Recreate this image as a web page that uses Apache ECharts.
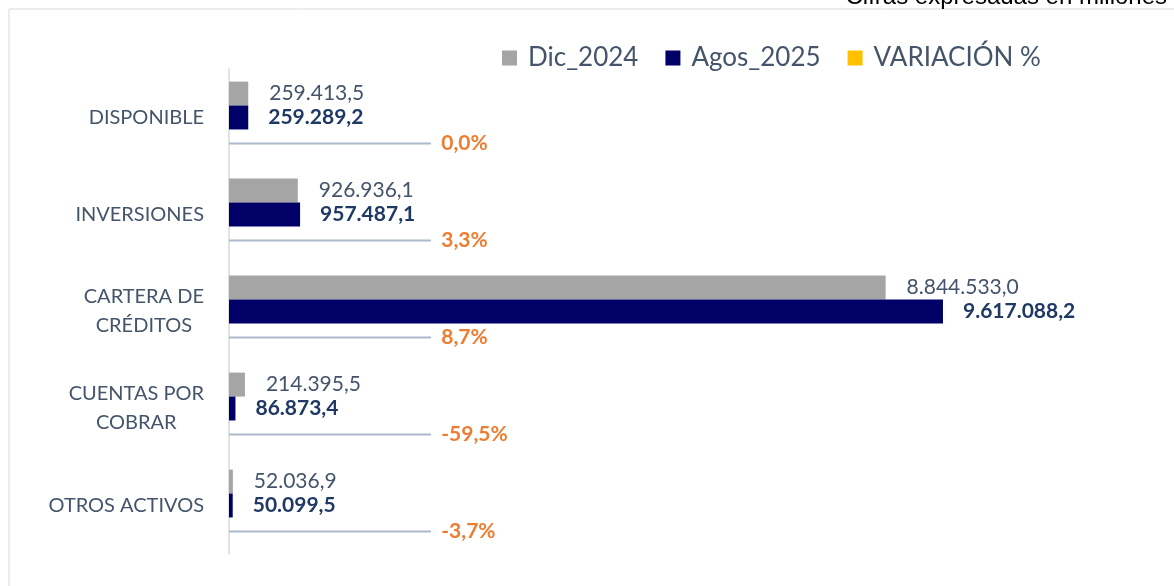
<!DOCTYPE html>
<html>
<head>
<meta charset="utf-8">
<script src="https://cdn.jsdelivr.net/npm/echarts@6/dist/echarts.min.js"></script>
<style>
  html, body { margin: 0; padding: 0; background: #fff; }
  #chart { width: 1174px; height: 586px; }
</style>
</head>
<body>
<div id="chart"></div>
<script>
var categorias = ['DISPONIBLE', 'INVERSIONES', 'CARTERA DE\nCRÉDITOS', 'CUENTAS POR\nCOBRAR', 'OTROS ACTIVOS'];
var dic2024 = [259413.5, 926936.1, 8844533.0, 214395.5, 52036.9];
var agos2025 = [259289.2, 957487.1, 9617088.2, 86873.4, 50099.5];
var variacion = [0.0, 3.3, 8.7, -59.5, -3.7];

var txtColor = '#44546A';
var fontName = 'Lato';

// formato 1.234.567,8
function fmt(v) {
  var parts = v.toFixed(1).split('.');
  parts[0] = parts[0].replace(/\B(?=(\d{3})+(?!\d))/g, '.');
  return parts.join(',');
}

window.onload = function() {
  var chart = echarts.init(document.getElementById('chart'));
  var option = {
    animation: false,
    textStyle: {fontFamily: fontName},
    graphic: [
      {
        type: 'rect',
        shape: {x: 9, y: 9, width: 1200, height: 620},
        style: {fill: 'none', stroke: '#D9D9D9', lineWidth: 1},
        silent: true
      },
      {
        type: 'text',
        right: 7,
        top: -15,
        style: {text: 'Cifras expresadas en millones', font: '24px "Liberation Sans"', fill: '#000'}
      }
    ],
    legend: {
      left: 497,
      top: 40,
      itemGap: 27,
      itemWidth: 15,
      itemHeight: 15,
      icon: 'rect',
      textStyle: {color: txtColor, fontSize: 26, fontFamily: fontName, padding: [0, 0, 0, 6]},
      data: ['Dic_2024', 'Agos_2025', 'VARIACIÓN %']
    },
    grid: {left: 229, top: 69, bottom: 32, right: 202.6},
    xAxis: {type: 'value', min: 0, max: 10000000, show: false},
    yAxis: {
      type: 'category',
      inverse: true,
      data: categorias,
      axisLine: {lineStyle: {color: '#D9D9D9', width: 1.5}},
      axisTick: {show: false},
      axisLabel: {
        margin: 25,
        color: txtColor,
        fontSize: 20,
        formatter: function(v) {
          return v.split('\n').map(function(s) { return '{c|' + s + '}'; }).join('\n');
        },
        rich: {c: {align: 'center', color: txtColor, fontSize: 20, fontFamily: fontName, lineHeight: 29}}
      }
    },
    series: [
      {
        name: 'Dic_2024',
        type: 'bar',
        data: dic2024,
        barGap: 0,
        barCategoryGap: '26%',
        itemStyle: {color: '#A5A5A5'},
        label: {
          show: true,
          position: 'right',
          distance: 21,
          color: txtColor,
          fontSize: 21,
          formatter: function(p) { return fmt(p.value); }
        }
      },
      {
        name: 'Agos_2025',
        type: 'bar',
        data: agos2025,
        barGap: 0,
        barCategoryGap: '26%',
        itemStyle: {color: '#000066'},
        label: {
          show: true,
          position: 'right',
          distance: 20,
          color: '#1F3864',
          fontWeight: 'bold',
          fontSize: 21,
          formatter: function(p) { return fmt(p.value); }
        }
      },
      {
        name: 'VARIACIÓN %',
        type: 'bar',
        data: variacion,
        clip: false,
        barGap: 0,
        barCategoryGap: '26%',
        itemStyle: {color: '#FFC000'},
        label: {
          show: true,
          position: 'right',
          distance: 5,
          color: '#ED7D31',
          fontWeight: 'bold',
          fontSize: 21,
          formatter: function(p) { return '  ' + p.value.toFixed(1).replace('.', ',') + '%'; }
        },
        labelLayout: {dx: 197, dy: 2},
        labelLine: {show: true, lineStyle: {color: '#ADB9CA', width: 2}}
      }
    ]
  };
  chart.setOption(option);
};
</script>
</body>
</html>
